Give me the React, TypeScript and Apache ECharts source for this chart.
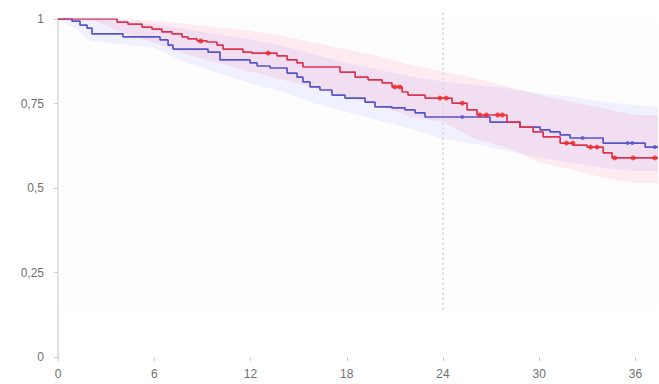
import React, { useEffect, useRef } from "react";
import * as echarts from "echarts";

// Kaplan-Meier step points: time (months) of each event and survival after it
const blueTimes = [0, 0.87, 1.37, 1.81, 2.12, 4.05, 6.36, 6.86, 7.17, 9.35, 10.1, 11.97, 12.41, 13.22, 14.28, 14.9, 15.27, 15.71, 16.33, 17.08, 17.89, 19.14, 19.76, 20.82, 21.63, 22.26, 22.88, 26.93, 28.8, 30.05, 30.67, 31.3, 31.92, 33.98, 36.6, 37.4];
const blueSurv = [1, 0.994, 0.982, 0.973, 0.956, 0.947, 0.938, 0.923, 0.911, 0.902, 0.879, 0.87, 0.861, 0.855, 0.84, 0.828, 0.814, 0.799, 0.79, 0.775, 0.766, 0.754, 0.74, 0.737, 0.731, 0.722, 0.71, 0.695, 0.68, 0.672, 0.666, 0.657, 0.648, 0.633, 0.621, 0.621];

const redTimes = [0, 3.68, 4.36, 5.24, 5.86, 6.48, 7.11, 7.73, 8.1, 8.67, 9.29, 9.91, 10.29, 11.53, 12.09, 13.65, 14.28, 14.9, 15.27, 17.58, 18.52, 19.33, 20.2, 20.82, 21.45, 21.82, 22.88, 24.56, 25.5, 26.12, 27.99, 28.8, 29.61, 30.24, 31.3, 32.11, 32.98, 33.98, 34.54, 37.4];
const redSurv = [1, 0.991, 0.985, 0.976, 0.97, 0.962, 0.956, 0.947, 0.941, 0.935, 0.932, 0.923, 0.911, 0.902, 0.899, 0.891, 0.879, 0.87, 0.858, 0.843, 0.828, 0.82, 0.811, 0.799, 0.784, 0.775, 0.766, 0.751, 0.731, 0.716, 0.695, 0.68, 0.666, 0.651, 0.633, 0.627, 0.621, 0.604, 0.589, 0.589];

// Censored observations (times)
const blueCensor = [25.2, 32.7, 35.5, 35.8, 37.2];
const redCensor = [8.9, 13.1, 21.0, 21.3, 23.8, 24.2, 25.2, 26.3, 26.7, 27.4, 27.7, 31.7, 32.1, 33.2, 33.6, 34.7, 35.85, 37.2];

// 95% confidence bands
const bandTimes = [0, 1, 2, 4, 6, 8, 10, 12, 14, 16, 18, 20, 22, 24, 26, 28, 30, 32, 34, 36, 37.4];
const blueUpper = [1, 1, 1, 0.99, 0.985, 0.97, 0.955, 0.94, 0.92, 0.895, 0.87, 0.85, 0.83, 0.815, 0.805, 0.795, 0.78, 0.77, 0.755, 0.745, 0.74];
const blueLower = [1, 0.975, 0.935, 0.925, 0.915, 0.87, 0.84, 0.81, 0.785, 0.75, 0.725, 0.7, 0.675, 0.645, 0.63, 0.61, 0.59, 0.575, 0.56, 0.55, 0.55];
const redUpper = [1, 1, 1, 1, 0.995, 0.985, 0.975, 0.965, 0.95, 0.93, 0.91, 0.89, 0.865, 0.845, 0.825, 0.8, 0.775, 0.755, 0.735, 0.715, 0.715];
const redLower = [1, 1, 1, 0.96, 0.93, 0.895, 0.87, 0.845, 0.82, 0.795, 0.77, 0.745, 0.71, 0.695, 0.645, 0.62, 0.575, 0.555, 0.53, 0.515, 0.515];

const xTicks = [0, 6, 12, 18, 24, 30, 36];
const yTicks = [0, 0.25, 0.5, 0.75, 1];
const landmark = 24;

const BLUE = "#5656cc";
const RED = "#de3450";

const survAt = (times: number[], surv: number[], t: number) => {
  let s = surv[0];
  for (let i = 0; i < times.length; i++) if (times[i] <= t) s = surv[i];
  return s;
};

const band = (lower: number[], upper: number[], fill: string) => ({
  type: "custom",
  silent: true,
  z: 1,
  data: [[0, 1]],
  renderItem: (_p: any, api: any) => {
    const pts: number[][] = [];
    for (let i = 0; i < bandTimes.length; i++) pts.push(api.coord([bandTimes[i], upper[i]]));
    for (let i = bandTimes.length - 1; i >= 0; i--) pts.push(api.coord([bandTimes[i], lower[i]]));
    return { type: "polygon", shape: { points: pts }, style: { fill } };
  },
});

export default function App() {
  const ref = useRef<HTMLDivElement>(null);
  useEffect(() => {
    if (!ref.current) return;
    const chart = echarts.init(ref.current, undefined, { renderer: "svg" });
    const labelStyle = { color: "#707070", fontSize: 12, fontFamily: "Liberation Sans, Arial, sans-serif" };
    chart.setOption({
      animation: false,
      backgroundColor: "#ffffff",
      grid: { left: 58, right: 1, top: 19, bottom: 27 },
      xAxis: {
        type: "value",
        min: 0,
        max: 37.4,
        interval: 6,
        axisLine: { show: false },
        axisTick: { show: true, length: 4, lineStyle: { color: "#cccccc" }, customValues: xTicks },
        axisLabel: { ...labelStyle, margin: 11, customValues: xTicks },
        splitLine: { show: false },
      },
      yAxis: {
        type: "value",
        min: 0,
        max: 1,
        interval: 0.25,
        axisLine: { show: true, lineStyle: { color: "#e0e0e0", width: 2 } },
        axisTick: { show: true, length: 4, lineStyle: { color: "#cccccc" }, customValues: yTicks },
        axisLabel: {
          ...labelStyle,
          margin: 14,
          customValues: yTicks,
          formatter: (v: number) => String(v).replace(".", ","),
        },
        splitLine: { show: false },
      },
      series: [
        band(blueLower, blueUpper, "rgba(125,125,255,0.10)"),
        band(redLower, redUpper, "rgba(255,95,140,0.11)"),
        {
          // landmark time marker
          type: "line",
          z: 2,
          clip: false,
          symbol: "none",
          silent: true,
          data: [[landmark, 0.14], [landmark, 1.02]],
          lineStyle: { color: "#dadada", type: [2, 3], width: 2 },
        },
        {
          type: "line",
          step: "end",
          z: 3,
          symbol: "none",
          data: blueTimes.map((t, i) => [t, blueSurv[i]]),
          lineStyle: { color: BLUE, width: 1.7 },
          markArea: {
            silent: true,
            itemStyle: { color: "rgba(240,240,248,0.14)" },
            data: [[{ xAxis: 0, yAxis: 0.14 }, { xAxis: 37.4, yAxis: 1 }]],
          },
        },
        {
          type: "scatter",
          z: 4,
          symbolSize: 4,
          itemStyle: { color: BLUE },
          data: blueCensor.map((t) => [t, survAt(blueTimes, blueSurv, t)]),
        },
        {
          type: "line",
          step: "end",
          z: 5,
          symbol: "none",
          data: redTimes.map((t, i) => [t, redSurv[i]]),
          lineStyle: { color: RED, width: 1.7 },
        },
        {
          type: "scatter",
          z: 6,
          symbolSize: 5,
          itemStyle: { color: "#f02a2a" },
          data: redCensor.map((t) => [t, survAt(redTimes, redSurv, t)]),
        },
      ],
    });
    return () => chart.dispose();
  }, []);
  return <div ref={ref} style={{ position: "fixed", left: 0, top: 0, width: 659, height: 384 }} />;
}
